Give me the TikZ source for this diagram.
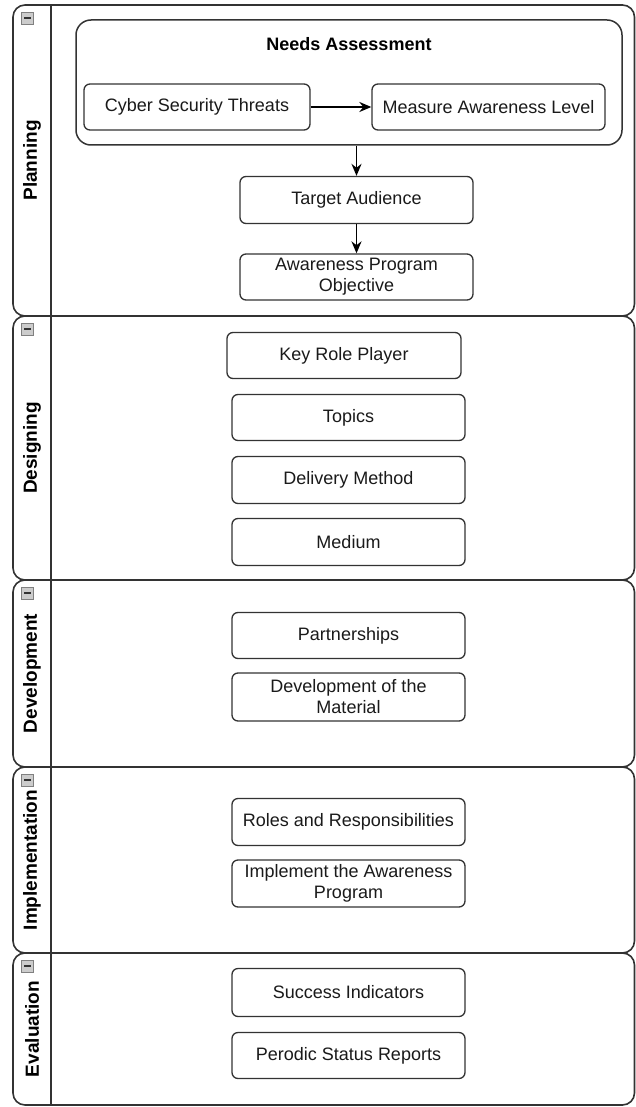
\documentclass[tikz,border=0pt]{standalone}
\usepackage{fontspec}
\setmainfont{Liberation Sans}
\usetikzlibrary{arrows.meta}
\definecolor[named]{LineGray}{HTML}{333333}
\definecolor[named]{TextBlack}{HTML}{1A1A1A}
\colorlet{iconbg}{lightgray!80!white}
\tikzset{
  lane/.style={draw=LineGray, line width=1.6pt, rounded corners=12pt},
  lanetitle/.style={rotate=90, text=black, font=\fontsize{19}{22}\selectfont\bfseries},
  box/.style={draw=LineGray, line width=1.3pt, rounded corners=6pt, fill=white,
    minimum width=233pt, minimum height=46pt, inner sep=0pt, align=center,
    text=TextBlack, font=\fontsize{18}{21}\selectfont},
  flow/.style={-{Stealth[length=12pt,width=10pt]}, line width=1.8pt, black},
  minus/.pic={
    \draw[fill=iconbg, draw=gray, line width=0.8pt] (-6,-6) rectangle (6,6);
    \draw[line width=1.6pt, LineGray] (-3.5,0) -- (3.5,0);
  }
}

\begin{document}
\begin{tikzpicture}[x=1pt,y=-1pt]
  \useasboundingbox (0,0) rectangle (636,1107);
  % swimlanes
  \foreach \ytop/\ybot/\name in {5/316/Planning, 316/580/Designing,
      580/767/Development, 767/953/Implementation, 953/1105/Evaluation} {
    \draw[lane] (13,\ytop) rectangle (634.5,\ybot);
    \draw[lane] (51,\ytop) -- (51,\ybot);
    \node[lanetitle] (lbl\name) at (32,{(\ytop+\ybot)/2}) {\name};
    \pic at (27.5,\ytop+13) {minus};
  }
  % planning
  \node[draw=LineGray, line width=1.5pt, rounded corners=15pt,
    minimum width=546pt, minimum height=125pt] (needs) at (349,82.5) {};
  \node[text=black, font=\fontsize{18}{21}\selectfont\bfseries] (needstitle)
    at (349,44.5) {Needs Assessment};
  \node[box, minimum width=226pt] (threats) at (197,107) {Cyber Security Threats};
  \node[box] (level) at (488.5,107) {Measure Awareness Level};
  \node[box, minimum height=47pt] (audience) at (356.5,200) {Target Audience};
  \node[box] (objective) at (356.5,277) {Awareness Program\\Objective};
  \draw[flow] (threats) -- (level);
  \draw[flow] (needs.south -| audience) -- (audience);
  \draw[flow] (audience) -- (objective);
  % designing
  \node[box, minimum width=234pt] (roleplayer) at (344,355.5) {Key Role Player};
  \node[box] (topics) at (348.5,417.5) {Topics};
  \node[box, minimum height=47pt] (delivery) at (348.5,480) {Delivery Method};
  \node[box, minimum height=47pt] (medium) at (348.5,542) {Medium};
  % development
  \node[box] (partners) at (348.5,635.5) {Partnerships};
  \node[box, minimum height=48pt] (material) at (348.5,697) {Development of the\\Material};
  % implementation
  \node[box, minimum height=47pt] (roles) at (348.5,822) {Roles and Responsibilities};
  \node[box, minimum height=47pt] (implement) at (348.5,883.5) {Implement the Awareness\\Program};
  % evaluation
  \node[box, minimum height=48pt] (success) at (348.5,992.5) {Success Indicators};
  \node[box] (reports) at (348.5,1055.5) {Perodic Status Reports};
\end{tikzpicture}
\end{document}
